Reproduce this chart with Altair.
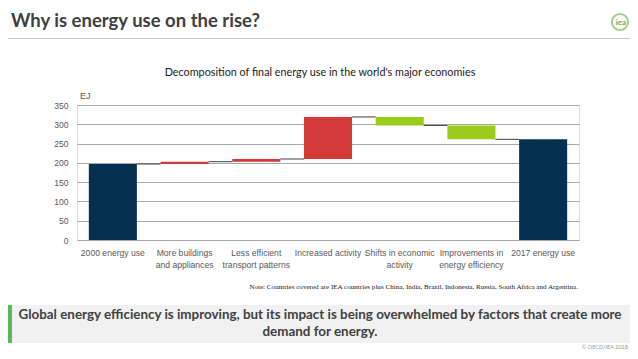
import json
import altair as alt
import pandas as pd

# ---- data ----
categories = [
    "2000 energy use",
    "More buildings and appliances",
    "Less efficient transport patterns",
    "Increased activity",
    "Shifts in economic activity",
    "Improvements in energy efficiency",
    "2017 energy use",
]
values = [197, 6, 7, 109, -22, -36, 261]
kinds = ["total", "increase", "increase", "increase", "decrease", "decrease", "total"]
label_lines = {
    "More buildings and appliances": ["More buildings", "and appliances"],
    "Less efficient transport patterns": ["Less efficient", "transport patterns"],
    "Shifts in economic activity": ["Shifts in economic", "activity"],
    "Improvements in energy efficiency": ["Improvements in", "energy efficiency"],
}
y_ticks = [0, 50, 100, 150, 200, 250, 300, 350]

title_text = "Why is energy use on the rise?"
subtitle_text = "Decomposition of final energy use in the world's major economies"
unit_text = "EJ"
note_text = ("Note: Countries covered are IEA countries plus China, India, Brazil, "
             "Indonesia, Russia, South Africa and Argentina.")
message_lines = [
    "Global energy efficiency is improving, but its impact is being overwhelmed by factors that create more",
    "demand for energy.",
]
copyright_text = "\u00a9 OECD/IEA 2018"

# ---- build waterfall table ----
rows = []
running = 0
for c, v, k in zip(categories, values, kinds):
    if k == "total":
        start, end = 0, v
    else:
        start, end = running, running + v
    running = end
    rows.append({"cat": c, "start": start, "end": end, "kind": k})
df = pd.DataFrame(rows)

conn = pd.DataFrame({
    "cat": categories[:-1],
    "nxt": categories[1:],
    "level": [r["end"] for r in rows[:-1]],
})

AXF = "Liberation Sans"
W, H = 502, 135

xscale = alt.Scale(domain=categories, paddingInner=0.33, paddingOuter=0.165)
yscale = alt.Scale(domain=[0, 350], nice=False)

label_expr = "(" + json.dumps(label_lines) + ")[datum.label] || datum.label"

x_axis = alt.Axis(title=None, labelAngle=0, labelExpr=label_expr,
                  labelFont=AXF, labelFontSize=8.6, labelColor="#595959",
                  labelPadding=8, labelLineHeight=12.5, domain=False, ticks=False,
                  labelLimit=200, labelOverlap=False, grid=False)
y_axis = alt.Axis(title=None, values=y_ticks, tickCount=8, labelFont=AXF, labelFontSize=8.6,
                  labelColor="#595959", labelPadding=9, domain=False, ticks=False,
                  labelOverlap=False, gridColor="#a8a8a8", gridWidth=1)

bars = alt.Chart(df).mark_bar().encode(
    x=alt.X("cat:N", scale=xscale, sort=categories, axis=x_axis),
    y=alt.Y("start:Q", scale=yscale, axis=y_axis),
    y2="end:Q",
    color=alt.Color("kind:N", scale=alt.Scale(domain=["total", "increase", "decrease"],
                                              range=["#05304f", "#d33a37", "#9ccb19"]),
                    legend=None),
)

connectors = alt.Chart(conn).mark_rule(color="#404040", strokeWidth=1).encode(
    x=alt.X("cat:N", scale=xscale, sort=categories, bandPosition=1, axis=x_axis),
    x2=alt.X2("nxt:N", bandPosition=0),
    y=alt.Y("level:Q", scale=yscale, axis=y_axis),
)


def text_layer(text, x, y, **kw):
    return alt.Chart(alt.Data(values=[{"a": 1}])).mark_text(text=text, **kw).encode(
        x=alt.value(x), y=alt.value(y))


def rect_layer(x, x2, y, y2, color):
    return alt.Chart(alt.Data(values=[{"a": 1}])).mark_rect(color=color).encode(
        x=alt.value(x), x2=alt.value(x2), y=alt.value(y), y2=alt.value(y2))


title = text_layer(title_text, -66, -78, font="Lato", fontSize=18.5, fontWeight="bold",
                   color="#404040", align="left", baseline="alphabetic")
underline = rect_layer(-69, 553, -67, -66, "#c8c8c8")
logo_circle = alt.Chart(alt.Data(values=[{"a": 1}])).mark_point(
    shape="circle", size=260, filled=False, color="#7dbb6a", strokeWidth=2
).encode(x=alt.value(543), y=alt.value(-83))
logo_text = text_layer("iea", 544, -82, font="Lato", fontSize=8, fontWeight="bold",
                       color="#6aa85a", align="center", baseline="middle")
subtitle = text_layer(subtitle_text, 243, -29, font="Lato", fontSize=10.8, color="#1a1a1a",
                      align="center", baseline="alphabetic")
unit = text_layer(unit_text, 3, -9, font=AXF, fontSize=9, color="#595959",
                  align="left", baseline="middle")
note = text_layer(note_text, 501, 184, font="Liberation Serif", fontSize=7.1, color="#1a1a1a",
                  align="right", baseline="alphabetic")
box = rect_layer(-69, 553, 200, 238, "#f1f1f1")
green = rect_layer(-69, -65, 200, 238, "#5cb65a")
message = text_layer(message_lines, 243, 210, font="Lato", fontSize=13.4, fontWeight="bold",
                     color="#404040", align="center", baseline="middle", lineHeight=17)
copyright_ = text_layer(copyright_text, 551, 245, font="Lato", fontSize=5.5, color="#9a9a9a",
                        align="right", baseline="bottom")

chart = alt.layer(
    bars, connectors, title, underline, logo_circle, logo_text, subtitle, unit, note,
    box, green, message, copyright_
).properties(
    width=W, height=H,
    autosize=alt.AutoSizeParams(type="none"),
    padding={"left": 69, "top": 97, "right": 51, "bottom": 111},
).configure_view(stroke=None).configure(background="white")

chart.save("out.html", embed_options={"renderer": "svg", "actions": False})
